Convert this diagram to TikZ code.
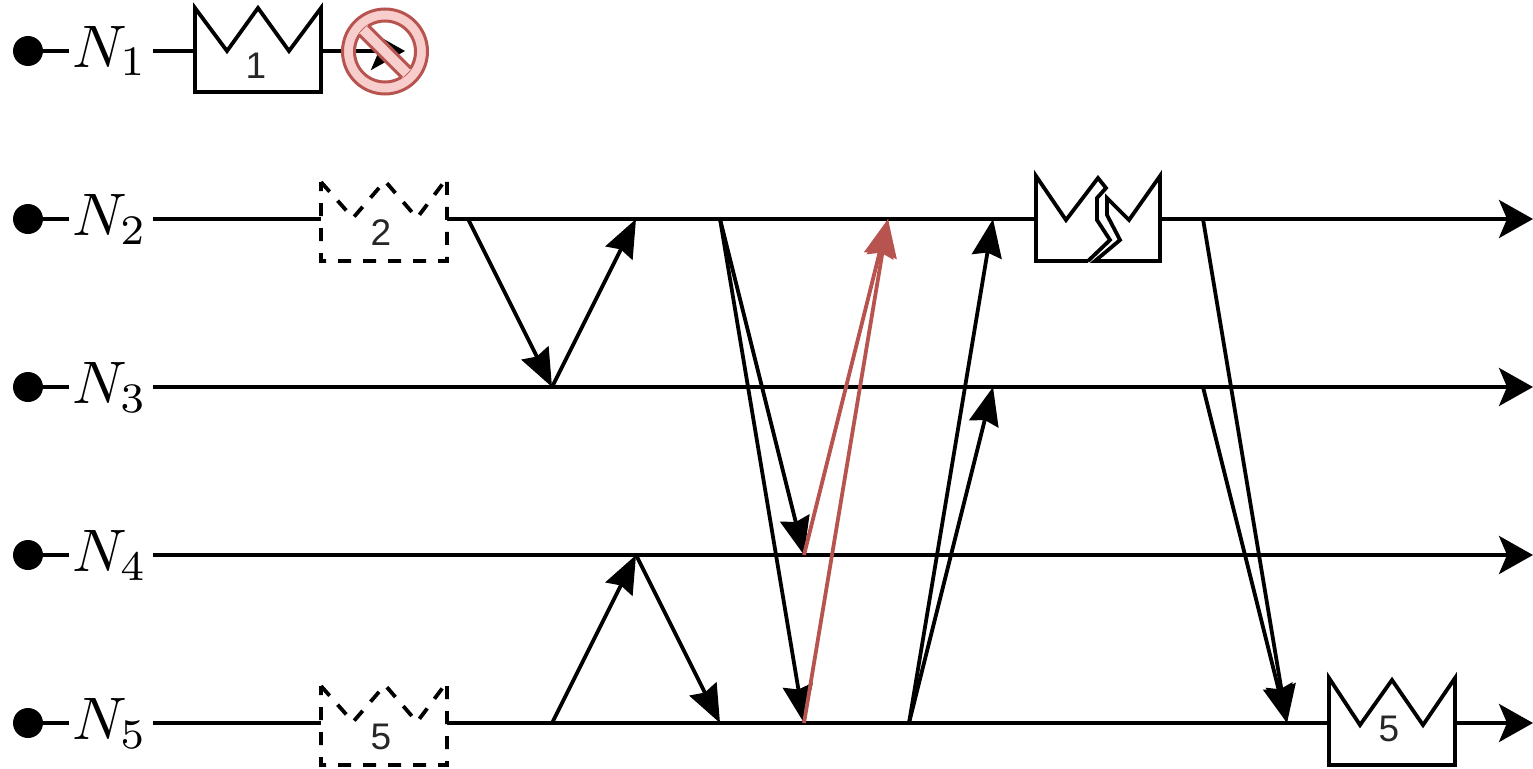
\documentclass[tikz,border=0pt]{standalone}
\usepackage{fontspec}
\newfontfamily\digitfont{Liberation Sans}
\usetikzlibrary{arrows.meta}
\definecolor{redline}{HTML}{B85450}
\definecolor{redfill}{HTML}{F8CECC}
\tikzset{
  ln/.style={line width=3.8pt,black},
  endarrow/.style={ln,-{Stealth[length=34pt,width=38pt,inset=8pt]}},
  msg/.style={ln,-{Stealth[length=38pt,width=30pt,inset=4pt]}},
  redmsg/.style={line width=3.8pt,redline,-{Stealth[length=38pt,width=30pt,inset=4pt]}},
  dot/.style={circle,fill=black,draw=none,minimum size=30pt,inner sep=0pt,outer sep=0pt},
  lab/.style={anchor=base,scale=6,minimum width=14pt,inner sep=0pt,outer sep=0pt},
  num/.style={inner sep=0pt,outer sep=0pt,text=black!85,font=\digitfont\fontsize{37}{40}\selectfont},
  crown/.style={ln,fill=white,line join=miter,miter limit=20},
  dcrown/.style={crown,dash pattern=on 13pt off 12pt},
  ring/.style={line width=3pt,draw=redline,fill=redfill},
}
\begin{document}
\begin{tikzpicture}[x=1pt,y=-1pt]
\useasboundingbox (0,0) rectangle (1533,768);
% timeline heads
\foreach \i/\y in {1/51,2/219,3/387,4/555,5/723}{
  \node[dot] (d\i) at (28,\y) {};
  \node[lab] (l\i) at (111,\y+16) {$N_{\i}$\kern0.45pt};
  \draw[ln] (d\i) -- (l\i.west |- d\i);
}
% line ends
\coordinate (e1) at (405,51);
\coordinate (e2) at (1533,219);
\coordinate (e3) at (1533,387);
\coordinate (e4) at (1533,555);
\coordinate (e5) at (1533,723);
% crown attach points
\coordinate (c1l) at (194,51);  \coordinate (c1r) at (321,51);
\coordinate (c2l) at (321,219); \coordinate (c2r) at (447,219);
\coordinate (c3l) at (1034,219);\coordinate (c3r) at (1161,219);
\coordinate (c4l) at (321,723); \coordinate (c4r) at (447,723);
\coordinate (c5l) at (1328,723);\coordinate (c5r) at (1455,723);
% timelines
\draw[ln] (l1.east |- d1) -- (c1l);
\draw[endarrow] (c1r) -- (e1);
\draw[ln] (l2.east |- d2) -- (c2l);
\draw[ln] (c2r) -- (c3l);
\draw[endarrow] (c3r) -- (e2);
\draw[endarrow] (l3.east |- d3) -- (e3);
\draw[endarrow] (l4.east |- d4) -- (e4);
\draw[ln] (l5.east |- d5) -- (c4l);
\draw[ln] (c4r) -- (c5l);
\draw[endarrow] (c5r) -- (e5);
% event points
\coordinate (a1) at (468,219); \coordinate (a2) at (552,387); \coordinate (a3) at (636,219);
\coordinate (b1) at (720,219); \coordinate (b2) at (804,555); \coordinate (b3) at (804,723);
\coordinate (b4) at (888,219);
\coordinate (f1) at (909,723); \coordinate (f2) at (993,219); \coordinate (f3) at (993,387);
\coordinate (g1) at (1203,219);\coordinate (g2) at (1203,387);\coordinate (g3) at (1287,723);
\coordinate (h1) at (552,723); \coordinate (h2) at (636,555); \coordinate (h3) at (720,723);
% messages
\draw[msg] (a1) -- (a2);
\draw[msg] (a2) -- (a3);
\draw[msg] (h1) -- (h2);
\draw[msg] (h2) -- (h3);
\draw[msg] (b1) -- (b2);
\draw[msg] (b1) -- (b3);
\draw[msg] (f1) -- (f2);
\draw[msg] (f1) -- (f3);
\draw[msg] (g1) -- (g3);
\draw[msg] (g2) -- (g3);
\draw[redmsg] (b2) -- (b4);
\draw[redmsg] (b3) -- (b4);
% crowns
\draw[crown] (195,92) -- (195,8) -- (227,51) -- (258,8) -- (289,51) -- (321,8) -- (321,92) -- cycle;
\node[num] (n1) at (256,66) {1};
\draw[dcrown] (321,182) -- (353,218) -- (385,181) -- (417,218) -- (447,178) -- (447,261) -- (321,261) -- cycle;
\node[num] (n2) at (381,233) {2};
\draw[dcrown] (321,686) -- (353,722) -- (385,685) -- (417,722) -- (447,682) -- (447,765) -- (321,765) -- cycle;
\node[num] (n4) at (381,737) {5};
\draw[crown] (1329,765) -- (1329,678) -- (1360,725) -- (1392,680) -- (1423,725) -- (1455,678) -- (1455,765) -- cycle;
\node[num] (n5) at (1389,729) {5};
% broken crown
\draw[ln,line join=miter,miter limit=20] (1088,261) -- (1036,261) -- (1036,176) -- (1066,220) -- (1098,178) -- (1106,188) -- (1097,198) -- (1097,220) -- (1110,240) -- (1088,261);
\draw[ln,line join=miter,miter limit=20] (1107,198) -- (1129,220) -- (1160,176) -- (1160,261) -- (1095,261) -- (1120,240) -- (1107,215) -- cycle;
% prohibition sign
\coordinate (s) at (385,51.5);
\draw[ring,even odd rule] (s) circle[radius=42.5] (s) circle[radius=30.5];
\begin{scope}[shift={(s)},rotate=-45]
  \fill[redfill] (-31,-6.5) rectangle (31,6.5);
  \draw[line width=3pt,redline] (-30.5,-6.5) -- (30.5,-6.5) (-30.5,6.5) -- (30.5,6.5);
\end{scope}
\end{tikzpicture}
\end{document}
